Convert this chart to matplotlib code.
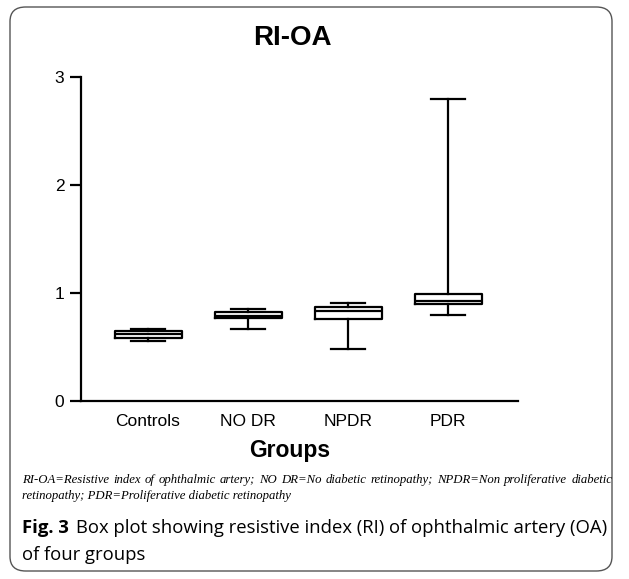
import matplotlib
matplotlib.use("Agg")
import matplotlib.pyplot as plt
from matplotlib.patches import FancyBboxPatch

groups = ["Controls", "NO DR", "NPDR", "PDR"]
whisker_low = [0.556, 0.667, 0.478, 0.796]
q1 = [0.585, 0.766, 0.756, 0.895]
median = [0.620, 0.790, 0.833, 0.926]
q3 = [0.648, 0.821, 0.873, 0.988]
whisker_high = [0.667, 0.852, 0.910, 2.80]
y_ticks = [0, 1, 2, 3]

footnote_lines = [
    "RI-OA=Resistive index of ophthalmic artery; NO DR=No diabetic retinopathy; NPDR=Non proliferative diabetic",
    "retinopathy; PDR=Proliferative diabetic retinopathy",
]

W, H = 629, 579
fig = plt.figure(figsize=(W / 100, H / 100), dpi=100)
sans = "Liberation Sans"

# rounded frame around the whole figure
frame = FancyBboxPatch((10 / W, 8 / H), (612 - 10) / W, (572 - 8) / H,
                       boxstyle="round,pad=0,rounding_size=0.025",
                       transform=fig.transFigure, fill=False,
                       edgecolor="#555555", linewidth=1.0)
fig.patches.append(frame)

ax = fig.add_axes([81 / W, 1 - 401 / H, (518 - 81) / W, (401 - 77) / H])

stats = []
for i, name in enumerate(groups):
    stats.append({
        "label": name,
        "whislo": whisker_low[i],
        "q1": q1[i],
        "med": median[i],
        "q3": q3[i],
        "whishi": whisker_high[i],
        "fliers": [],
    })

lw = 1.6
ax.bxp(stats, positions=[1, 2, 3, 4], widths=0.67, showfliers=False,
       boxprops=dict(color="black", linewidth=lw),
       medianprops=dict(color="black", linewidth=lw),
       whiskerprops=dict(color="black", linewidth=lw),
       capprops=dict(color="black", linewidth=lw),
       capwidths=0.34)

ax.set_xlim(0.33, 4.7)
ax.set_ylim(0, 3)
ax.set_yticks(y_ticks)
ax.spines["top"].set_visible(False)
ax.spines["right"].set_visible(False)
ax.spines["left"].set_linewidth(1.6)
ax.spines["bottom"].set_linewidth(1.6)
ax.tick_params(axis="y", length=8, width=1.6, labelsize=12.5, pad=4)
ax.tick_params(axis="x", length=0, labelsize=12.5, pad=9)
for lab in ax.get_xticklabels() + ax.get_yticklabels():
    lab.set_fontfamily(sans)

fig.text(292 / W, 1 - 38 / H, "RI-OA", ha="center", va="center",
         fontsize=20, fontweight="bold", family=sans)
fig.text(290 / W, 1 - 451 / H, "Groups", ha="center", va="center",
         fontsize=16.5, fontweight="bold", family=sans)

# justified footnote (first line), left aligned second line
fig.canvas.draw()
renderer = fig.canvas.get_renderer()
left_px, right_px = 22, 612
fn_kw = dict(fontsize=9.2, style="italic", family="Liberation Serif", va="center")
words = footnote_lines[0].split(" ")
tmp = [fig.text(0, 0, w, **fn_kw) for w in words]
widths = [t.get_window_extent(renderer).width for t in tmp]
for t in tmp:
    t.remove()
gap = (right_px - left_px - sum(widths)) / (len(words) - 1)
x = left_px
for w, wd in zip(words, widths):
    fig.text(x / W, 1 - 480 / H, w, ha="left", **fn_kw)
    x += wd + gap
fig.text(left_px / W, 1 - 496 / H, footnote_lines[1], ha="left", **fn_kw)

cap_y1 = 1 - 528 / H
t1 = fig.text(22 / W, cap_y1, "Fig. 3", ha="left", va="center",
              fontsize=13.3, fontweight="bold", family="Open Sans")
fig.canvas.draw()
bb = t1.get_window_extent(renderer)
fig.text((bb.x1 + 7) / W, cap_y1,
         "Box plot showing resistive index (RI) of ophthalmic artery (OA)",
         ha="left", va="center", fontsize=13.3, family="Open Sans")
fig.text(22 / W, 1 - 555 / H, "of four groups", ha="left", va="center",
         fontsize=13.3, family="Open Sans")

fig.savefig("out.png", dpi=100)
